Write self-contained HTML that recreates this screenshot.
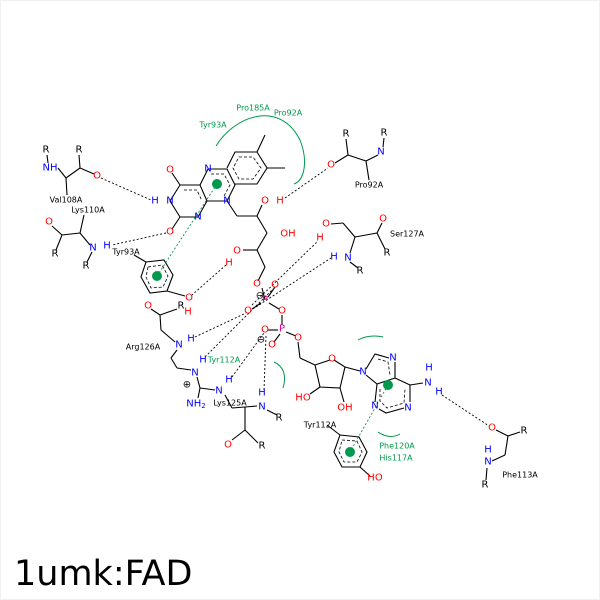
<!DOCTYPE html>
<html><head><meta charset="utf-8"><style>
html,body{margin:0;padding:0;background:#fff}
svg{display:block}
text{font-family:"DejaVu Sans","Liberation Sans",sans-serif}
.a{font-size:10px;text-anchor:middle;dominant-baseline:central}
.l{font-size:8px;text-anchor:middle;dominant-baseline:central;fill:#000}
.g{font-size:8px;text-anchor:middle;dominant-baseline:central;fill:#00994d}
.b{fill:#0000ff}.r{fill:#ff0000}.p{fill:#e0009a}
</style></head><body>
<svg width="600" height="600" viewBox="0 0 600 600">
<rect x="0.5" y="0.5" width="599" height="599" fill="none" stroke="#f0f0f0"/>
<g stroke="#000" stroke-width="1.1" fill="none">
<!-- flavin rings -->
<polyline points="180,185 200,185 207,201 198,217 180,217 170,201 180,185"/>
<polyline points="200,185 208,169 227,169 235,185 227,201 207,201"/>
<polyline points="227,168 235,152 257,152 267,168 257,184 235,184"/>
<line x1="257" y1="152" x2="265" y2="135"/><line x1="267" y1="168" x2="285" y2="168"/>
<line x1="180" y1="185" x2="172" y2="173"/><line x1="180" y1="217" x2="172" y2="229"/>
<line x1="227" y1="201" x2="237" y2="216"/><line x1="237" y1="216" x2="257" y2="216"/>
<line x1="257" y1="216" x2="262" y2="205"/><line x1="257" y1="216" x2="267" y2="233"/>
<line x1="267" y1="233" x2="257" y2="250"/><line x1="257" y1="250" x2="243" y2="250"/>
<line x1="257" y1="250" x2="265" y2="267"/><line x1="265" y1="267" x2="258" y2="281"/>
<line x1="262" y1="288" x2="265" y2="300"/>
<line x1="275" y1="287" x2="268" y2="297"/><line x1="252" y1="309" x2="261" y2="303"/><line x1="269" y1="303" x2="279" y2="309"/>
<line x1="282" y1="315" x2="282" y2="325"/><line x1="268" y1="330" x2="278" y2="330"/><line x1="280" y1="334" x2="274" y2="342"/><line x1="286" y1="332" x2="296" y2="336"/>
<line x1="298" y1="342" x2="300" y2="358"/><line x1="300" y1="358" x2="315" y2="365"/>
<polyline points="315,365 330,360"/><polyline points="334,360 345,367 340,388 320,387 315,365"/>
<line x1="345" y1="367" x2="360" y2="371"/>
<line x1="320" y1="387" x2="310" y2="394"/><line x1="340" y1="388" x2="344" y2="402"/>
<!-- adenine -->
<polyline points="366,369 375,354 389,358"/><polyline points="395,362 395,378 377,384 366,375"/>
<polyline points="377,384 375,402"/><polyline points="379,409 386,413 404,408"/><polyline points="410,402 410,385 395,378"/>
<line x1="410" y1="385" x2="423" y2="383"/>
<!-- Tyr112 ring -->
<polygon points="340,435 359,437 367,452 360,467 342,467 334,452"/>
<line x1="340" y1="435" x2="327" y2="425"/><line x1="360" y1="467" x2="370" y2="476"/>
<!-- Phe113 -->
<line x1="496" y1="430" x2="508" y2="436"/><line x1="508" y1="436" x2="520" y2="432"/><line x1="508" y1="436" x2="505" y2="455"/><line x1="505" y1="455" x2="492" y2="461"/><line x1="487" y1="468" x2="486" y2="480"/>
<!-- Val108 -->
<line x1="47" y1="155" x2="48" y2="163"/><line x1="58" y1="168" x2="66" y2="178"/><line x1="66" y1="178" x2="80" y2="168"/><line x1="80" y1="168" x2="79" y2="155"/><line x1="80" y1="168" x2="94" y2="174"/><line x1="66" y1="178" x2="67" y2="195"/>
<!-- Lys110 -->
<line x1="52" y1="226" x2="62" y2="235"/><line x1="62" y1="235" x2="56" y2="250"/><line x1="62" y1="235" x2="80" y2="233"/><line x1="80" y1="233" x2="84" y2="215"/><line x1="80" y1="233" x2="90" y2="245"/><line x1="92" y1="252" x2="87" y2="262"/>
<!-- Tyr93 ring -->
<polygon points="146,262 164,260 173,275 167,291 150,293 141,277"/>
<line x1="146" y1="262" x2="134" y2="255"/><line x1="167" y1="291" x2="185" y2="296"/>
<!-- Arg126 etc -->
<line x1="151" y1="309" x2="160" y2="315"/><line x1="160" y1="315" x2="177" y2="309"/><line x1="160" y1="315" x2="161" y2="330"/><line x1="161" y1="330" x2="175" y2="342"/>
<line x1="177" y1="350" x2="171" y2="358"/><line x1="171" y1="358" x2="177" y2="368"/><line x1="177" y1="368" x2="191" y2="370"/>
<line x1="197" y1="377" x2="200" y2="388"/><line x1="200" y1="388" x2="215" y2="390"/><line x1="200" y1="388" x2="198" y2="398"/>
<!-- Lys125 -->
<line x1="225" y1="395" x2="232" y2="408"/><line x1="232" y1="408" x2="245" y2="407"/><line x1="245" y1="407" x2="257" y2="406"/><line x1="267" y1="410" x2="277" y2="415"/><line x1="245" y1="407" x2="245" y2="430"/><line x1="245" y1="430" x2="232" y2="440"/><line x1="245" y1="430" x2="258" y2="443"/>
<!-- Ser127 -->
<line x1="331" y1="224" x2="343" y2="223"/><line x1="343" y1="223" x2="355" y2="237"/><line x1="355" y1="237" x2="377" y2="233"/><line x1="377" y1="233" x2="382" y2="223"/><line x1="377" y1="233" x2="385" y2="249"/><line x1="355" y1="237" x2="350" y2="253"/><line x1="350" y1="262" x2="358" y2="268"/>
<!-- Pro92 -->
<line x1="346" y1="139" x2="348" y2="155"/><line x1="348" y1="155" x2="335" y2="163"/><line x1="348" y1="155" x2="366" y2="161"/><line x1="366" y1="161" x2="378" y2="155"/><line x1="383" y1="147" x2="384" y2="138"/><line x1="366" y1="161" x2="369" y2="180"/>
</g>
<!-- aromatic inner dashed -->
<g stroke="#000" stroke-width="0.8" stroke-dasharray="3,2" fill="none">
<polygon points="239,157 253,157 261,168 253,179 239,179 233,168"/>
<polyline points="211,174 224,174 230,185 224,196"/>
<polyline points="184,190 197,190 202,201"/>
<polygon points="148,267 162,265 168,276 163,287 151,288 146,277"/>
<polygon points="342,440 357,441 362,452 357,462 344,462 339,452"/>
<polyline points="378,359 388,362 390,375"/>
<polyline points="380,389 380,401 387,408 404,403 405,389"/>
</g>
<!-- H bonds -->
<g stroke="#000" stroke-width="0.9" stroke-dasharray="2,2" fill="none">
<line x1="101" y1="178" x2="151" y2="200"/><line x1="166" y1="233" x2="112" y2="245"/>
<line x1="226" y1="265" x2="192" y2="295"/><line x1="285" y1="198" x2="328" y2="168"/>
<line x1="252" y1="305" x2="318" y2="241"/><line x1="256" y1="307" x2="331" y2="258"/>
<line x1="195" y1="337" x2="246" y2="313"/><line x1="205" y1="357" x2="273" y2="289"/>
<line x1="232" y1="377" x2="264" y2="333"/><line x1="264" y1="390" x2="266" y2="336"/>
<line x1="442" y1="395" x2="489" y2="426"/>
</g>
<g stroke="#00994d" stroke-width="0.9" stroke-dasharray="2,2"><line x1="217" y1="184" x2="157" y2="276"/><line x1="388" y1="385" x2="350" y2="452"/></g>
<g stroke="#00994d" stroke-width="1" fill="none">
<path d="M216,146 C235,115 280,100 300,140 C308,160 305,180 294,184"/>
<path d="M358,340 C365,336 375,335 383,337"/><path d="M274,362 C283,366 287,375 283,388"/><path d="M378,432 C385,437 393,438 400,434"/>
</g>
<g fill="#00994d"><circle cx="217" cy="184" r="5"/><circle cx="157" cy="276" r="5"/><circle cx="388" cy="385" r="5"/><circle cx="350" cy="452" r="5"/></g>
<!-- atoms -->
<g class="a">
<text x="208" y="169" class="a b">N</text><text x="227" y="201" class="a b">N</text><text x="198" y="217" class="a b">N</text><text x="170" y="201" class="a b">N</text><text x="155" y="201" class="a b">H</text>
<text x="170" y="170" class="a r">O</text><text x="170" y="232" class="a r">O</text>
<text x="265" y="201" class="a r">O</text><text x="280" y="201" class="a r">H</text><text x="288" y="234" class="a r">OH</text>
<text x="237" y="251" class="a r">O</text><text x="229" y="263" class="a r">H</text>
<text x="257" y="284" class="a r">O</text><text x="275" y="285" class="a r">O</text><text x="248" y="311" class="a r">O</text><text x="282" y="311" class="a r">O</text>
<text x="265" y="300" class="a p">P</text><text x="282" y="329" class="a p">P</text>
<text x="265" y="330" class="a r">O</text><text x="272" y="345" class="a r">O</text><text x="298" y="338" class="a r">O</text>
<text x="332" y="359" class="a r">O</text><text x="303" y="398" class="a r">HO</text><text x="345" y="408" class="a r">OH</text>
<text x="363" y="372" class="a b">N</text><text x="393" y="358" class="a b">N</text><text x="375" y="406" class="a b">N</text><text x="408" y="408" class="a b">N</text>
<text x="428" y="383" class="a b">N</text><text x="429" y="368" class="a b">H</text><text x="439" y="392" class="a b">H</text>
<text x="375" y="478" class="a r">HO</text>
<text x="492" y="428" class="a r">O</text><text x="524" y="431" class="a">R</text><text x="488" y="462" class="a b">N</text><text x="488" y="450" class="a b">H</text><text x="485" y="485" class="a">R</text>
<text x="46" y="150" class="a">R</text><text x="50" y="168" class="a b">NH</text><text x="79" y="150" class="a">R</text><text x="97" y="176" class="a r">O</text>
<text x="49" y="222" class="a r">O</text><text x="55" y="254" class="a">R</text><text x="93" y="248" class="a b">N</text><text x="107" y="246" class="a b">H</text><text x="86" y="266" class="a">R</text>
<text x="189" y="298" class="a r">O</text><text x="188" y="312" class="a r">H</text>
<text x="148" y="306" class="a r">O</text><text x="181" y="306" class="a">R</text><text x="179" y="345" class="a b">N</text><text x="191" y="339" class="a b">H</text>
<text x="195" y="373" class="a b">N</text><text x="203" y="360" class="a b">H</text><text x="187" y="385" class="a">⊕</text><text x="196" y="404" class="a b">NH<tspan font-size="7" dy="2">2</tspan></text>
<text x="219" y="391" class="a b">N</text><text x="229" y="380" class="a b">H</text>
<text x="262" y="407" class="a b">N</text><text x="262" y="393" class="a b">H</text><text x="279" y="418" class="a">R</text><text x="228" y="445" class="a r">O</text><text x="262" y="446" class="a">R</text>
<text x="260" y="296" class="a" font-size="8">⊖</text><text x="261" y="340" class="a" font-size="8">⊖</text>
<text x="326" y="224" class="a r">O</text><text x="320" y="238" class="a r">H</text><text x="383" y="219" class="a r">O</text><text x="387" y="253" class="a">R</text>
<text x="348" y="258" class="a b">N</text><text x="334" y="257" class="a b">H</text><text x="360" y="271" class="a">R</text>
<text x="346" y="134" class="a">R</text><text x="331" y="165" class="a r">O</text><text x="381" y="152" class="a b">N</text><text x="384" y="133" class="a">R</text>
</g>
<g>
<text x="66" y="200" class="l">Val108A</text><text x="88" y="210" class="l">Lys110A</text><text x="126" y="252" class="l">Tyr93A</text>
<text x="143" y="347" class="l">Arg126A</text><text x="230" y="403" class="l">Lys125A</text><text x="320" y="425" class="l">Tyr112A</text>
<text x="520" y="475" class="l">Phe113A</text><text x="407" y="234" class="l">Ser127A</text><text x="369" y="185" class="l">Pro92A</text>
<text x="213" y="125" class="g">Tyr93A</text><text x="253" y="108" class="g">Pro185A</text><text x="288" y="113" class="g">Pro92A</text>
<text x="224" y="360" class="g">Tyr112A</text><text x="397" y="446" class="g">Phe120A</text><text x="396" y="458" class="g">His117A</text>
</g>
<text x="14" y="585" font-size="35" fill="#000" style="font-family:'DejaVu Sans',sans-serif">1umk:FAD</text>
</svg>
</body></html>
